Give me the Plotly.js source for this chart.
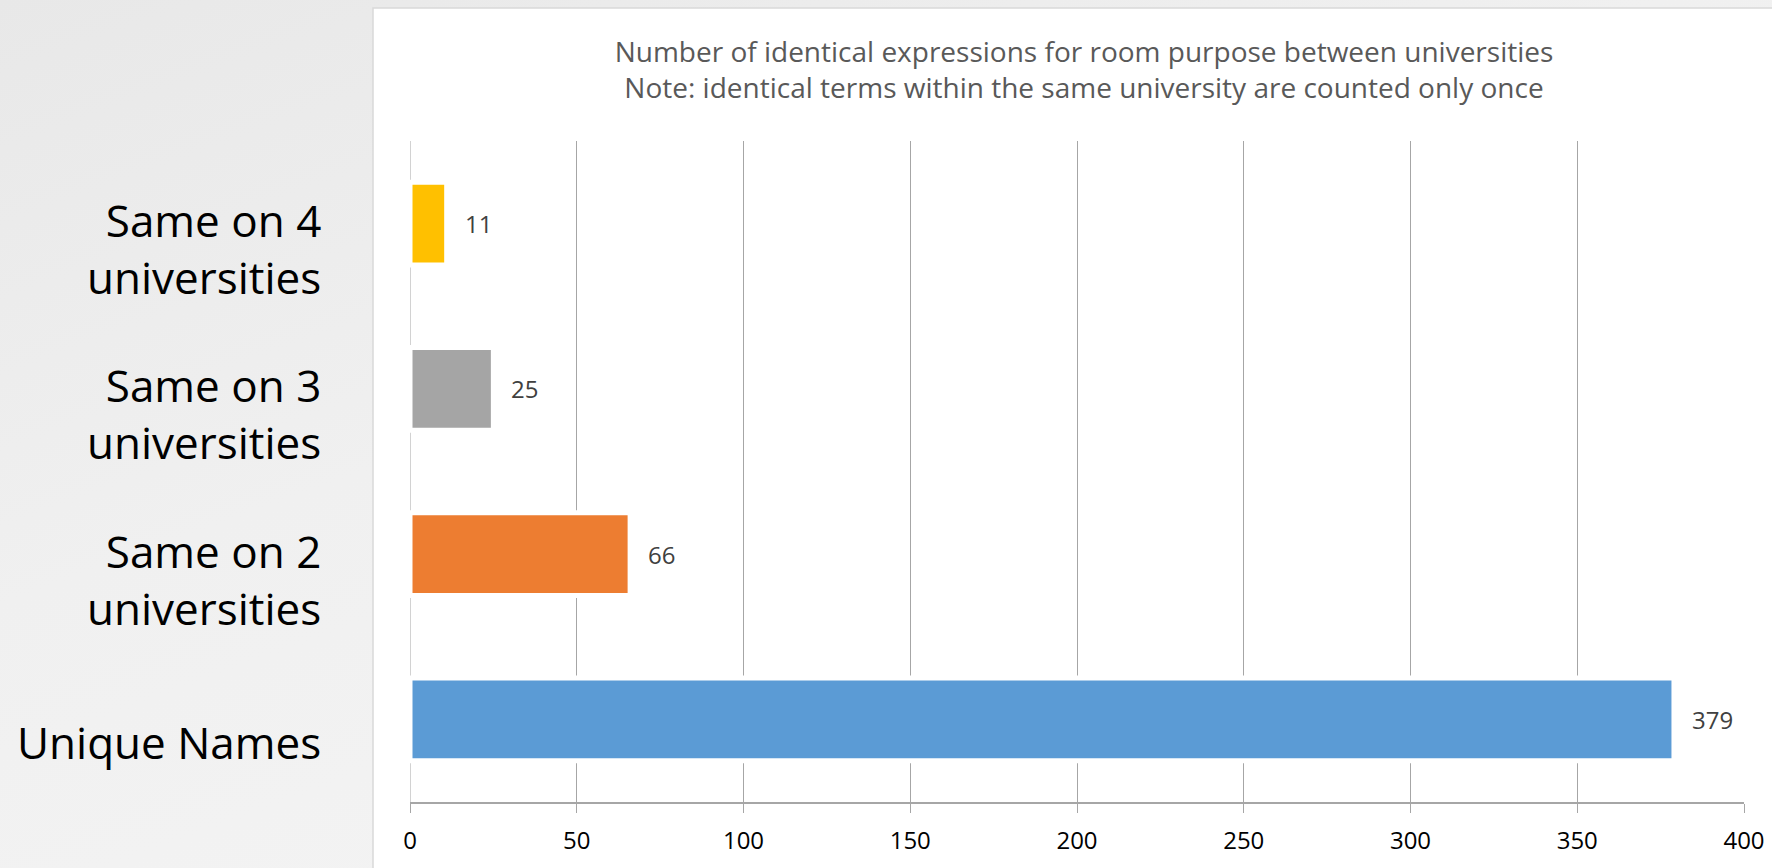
<!DOCTYPE html>
<html>
<head>
<meta charset="utf-8">
<script src="https://cdn.plot.ly/plotly-3.0.1.min.js"></script>
<style>
  html, body { margin: 0; padding: 0; }
  body {
    width: 1772px; height: 868px; overflow: hidden;
    background: linear-gradient(160deg, #e8e8e8 0%, #f0f0f0 40%, #f6f6f6 100%);
  }
  #chart { width: 1772px; height: 868px; }
</style>
</head>
<body>
<div id="chart"></div>
<script>
// ---- data ----
const categories = ['Unique Names', 'Same on 2 universities', 'Same on 3 universities', 'Same on 4 universities'];
const labelText = ['Unique Names', 'Same on 2<br>universities', 'Same on 3<br>universities', 'Same on 4<br>universities'];
const values = [379, 66, 25, 11];
const barColors = ['#5B9BD5', '#ED7D31', '#A5A5A5', '#FFC000'];
const xTicks = [0, 50, 100, 150, 200, 250, 300, 350, 400];
const titleLine1 = 'Number of identical expressions for room purpose between universities';
const titleLine2 = 'Note: identical terms within the same university are counted only once';

// ---- layout geometry ----
const W = 1772, H = 868;
const M = {l: 410, r: 28, t: 141, b: 66};
const pw = W - M.l - M.r, ph = H - M.t - M.b;
const px2x = p => (p - M.l) / pw;
const py2y = p => (H - M.b - p) / ph;

const trace = {
  type: 'bar',
  orientation: 'h',
  y: categories,
  x: values,
  width: 0.5,
  marker: { color: barColors, line: { color: '#ffffff', width: 5 } },
  hoverinfo: 'none',
  cliponaxis: false
};

const annotations = [];
categories.forEach((c, i) => {
  const multi = labelText[i].indexOf('<br>') >= 0;
  annotations.push({
    xref: 'paper', yref: 'y', x: px2x(323), y: c,
    xanchor: 'right', yanchor: 'middle', align: 'right',
    yshift: multi ? -25 : -23,
    text: labelText[i], showarrow: false,
    font: { family: 'Open Sans, sans-serif', size: 44, color: '#000000' }
  });
  annotations.push({
    xref: 'x', yref: 'y', x: values[i], y: c,
    xanchor: 'left', yanchor: 'middle', xshift: 16,
    text: String(values[i]), showarrow: false,
    font: { family: 'Open Sans, sans-serif', size: 24, color: '#404040' }
  });
});

const layout = {
  width: W, height: H,
  margin: M,
  paper_bgcolor: 'rgba(0,0,0,0)',
  plot_bgcolor: 'rgba(0,0,0,0)',
  showlegend: false,
  title: {
    text: titleLine1 + '<br>' + titleLine2,
    font: { family: 'Open Sans, sans-serif', size: 28, color: '#595959' },
    x: 1084 / W, xanchor: 'center', xref: 'container',
    y: 1 - 62 / H, yanchor: 'middle', yref: 'container'
  },
  xaxis: {
    range: [0, 400],
    tickvals: xTicks,
    ticktext: xTicks.map(String),
    showgrid: true, gridcolor: '#a6a6a6', gridwidth: 1,
    zeroline: false,
    showline: true, linecolor: '#a6a6a6', linewidth: 2,
    ticks: 'outside', ticklen: 9, tickcolor: '#a6a6a6', tickwidth: 1,
    tickfont: { family: 'Open Sans, sans-serif', size: 24, color: '#000000' },
    ticklabelstandoff: 7,
    fixedrange: true
  },
  yaxis: {
    type: 'category',
    categoryorder: 'array', categoryarray: categories,
    showticklabels: false, showgrid: false, zeroline: false, showline: false,
    ticks: '', fixedrange: true
  },
  shapes: [
    {
      type: 'rect', layer: 'below', xref: 'paper', yref: 'paper',
      x0: px2x(373), x1: px2x(1790), y0: py2y(880), y1: py2y(8),
      fillcolor: '#ffffff', line: { color: '#d9d9d9', width: 1.5 }
    },
    {
      type: 'line', layer: 'below', xref: 'x', yref: 'paper',
      x0: 0, x1: 0, y0: 0, y1: 1,
      line: { color: '#a6a6a6', width: 1 }
    }
  ],
  annotations: annotations
};

Plotly.newPlot('chart', [trace], layout, { displayModeBar: false, staticPlot: true });
</script>
</body>
</html>
